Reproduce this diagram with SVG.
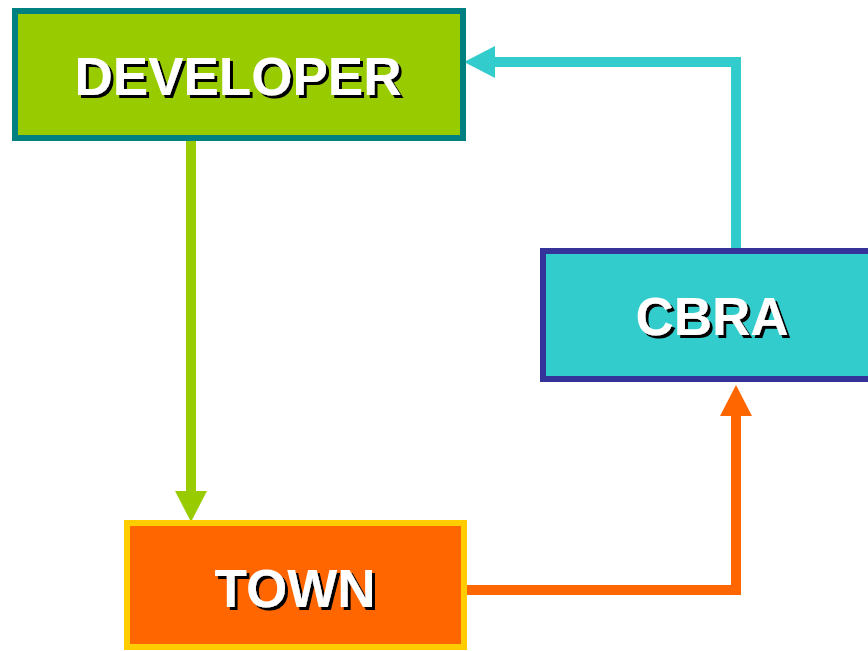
<svg xmlns="http://www.w3.org/2000/svg" width="868" height="651" viewBox="0 0 868 651">
<style>
  .lbl { font-family: "Liberation Sans", Arial, sans-serif; font-weight: bold; font-size: 53px; fill: #FFFFFF; text-anchor: middle; filter: url(#shadow); }
  .box { stroke-width: 6; }
  .conn { fill: none; stroke-width: 10; stroke-linecap: butt; stroke-linejoin: miter; }
</style>
<defs>
  <filter id="shadow" x="-10%" y="-20%" width="120%" height="140%">
    <feDropShadow dx="3" dy="3" stdDeviation="0" flood-color="#000000" flood-opacity="1"/>
  </filter>
  <marker id="ah-green" markerUnits="userSpaceOnUse" markerWidth="32" markerHeight="32" refX="0" refY="16" orient="auto">
    <path d="M0,0 L31,16 L0,32 Z" fill="#99CC00"/>
  </marker>
  <marker id="ah-cyan" markerUnits="userSpaceOnUse" markerWidth="32" markerHeight="32" refX="0" refY="16" orient="auto">
    <path d="M0,0 L31,16 L0,32 Z" fill="#33CCCC"/>
  </marker>
  <marker id="ah-orange" markerUnits="userSpaceOnUse" markerWidth="32" markerHeight="32" refX="0" refY="16" orient="auto">
    <path d="M0,0 L31,16 L0,32 Z" fill="#FF6600"/>
  </marker>
</defs>
<g id="connectors">
  <path class="conn" d="M191,141 L191,491" stroke="#99CC00" marker-end="url(#ah-green)"/>
  <path class="conn" d="M736,250 L736,62 L495,62" stroke="#33CCCC" marker-end="url(#ah-cyan)"/>
  <path class="conn" d="M466,590 L736,590 L736,416" stroke="#FF6600" marker-end="url(#ah-orange)"/>
</g>
<g id="developer">
  <rect class="box" x="15" y="11" width="448" height="127" fill="#99CC00" stroke="#008080"/>
  <text class="lbl" x="238" y="95">DEVELOPER</text>
</g>
<g id="cbra">
  <rect class="box" x="543" y="251" width="350" height="128" fill="#33CCCC" stroke="#333399"/>
  <text class="lbl" x="712" y="335">CBRA</text>
</g>
<g id="town">
  <rect class="box" x="127" y="523" width="337" height="124" fill="#FF6600" stroke="#FFCC00"/>
  <text class="lbl" x="295" y="607">TOWN</text>
</g>
</svg>
